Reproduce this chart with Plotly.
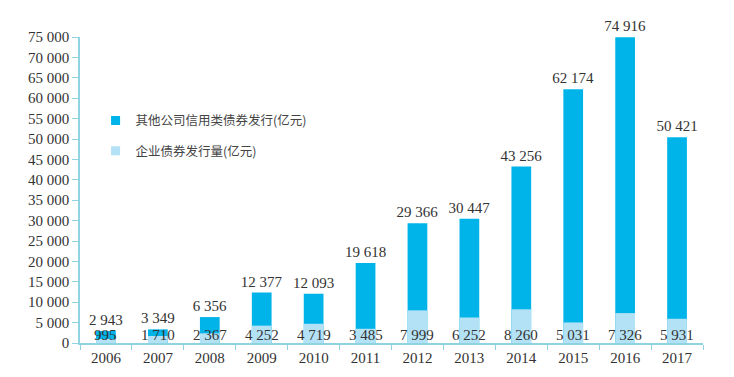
import plotly.graph_objects as go

years = ["2006", "2007", "2008", "2009", "2010", "2011", "2012", "2013", "2014", "2015", "2016", "2017"]
other_credit = [2943, 3349, 6356, 12377, 12093, 19618, 29366, 30447, 43256, 62174, 74916, 50421]
enterprise = [995, 1710, 2367, 4252, 4719, 3485, 7999, 6252, 8260, 5031, 7326, 5931]
y_ticks = list(range(0, 75001, 5000))

DARK = "#00b4ea"
LIGHT = "#b3e1f5"
AXIS = "#8fd3e3"
TXT = "#333333"
SERIF = "Liberation Serif, Times New Roman, serif"
CJK = "Noto Sans CJK SC"
FS = 15

def fmt(v):
    return f"{v:,}".replace(",", " ")

fig = go.Figure()
fig.add_trace(go.Bar(
    x=years, y=other_credit, name="其他公司信用类债券发行(亿元)",
    marker=dict(color=DARK, line=dict(width=0)), width=0.38,
    text=[fmt(v) for v in other_credit], textposition="outside",
    textfont=dict(family=SERIF, size=FS, color=TXT), cliponaxis=False,
    showlegend=False,
))
fig.add_trace(go.Bar(
    x=years, y=enterprise, name="企业债券发行量(亿元)",
    marker=dict(color=LIGHT, line=dict(width=0)), width=0.38,
    showlegend=False,
))
# legend entries
fig.add_trace(go.Scatter(x=[None], y=[None], mode="markers", name="其他公司信用类债券发行(亿元)",
                         marker=dict(symbol="square", size=9, color=DARK), legendgroup="a"))
fig.add_trace(go.Scatter(x=[None], y=[None], mode="markers", name="企业债券发行量(亿元)",
                         marker=dict(symbol="square", size=9, color=LIGHT), legendgroup="b"))

for i, v in enumerate(enterprise):
    fig.add_annotation(x=i, y=0, text=fmt(v), showarrow=False,
                       yanchor="middle", yshift=8,
                       font=dict(family=SERIF, size=FS, color=TXT))

fig.update_layout(
    barmode="overlay",
    width=734, height=377,
    margin=dict(l=72, r=39, t=29, b=42, autoexpand=False),
    plot_bgcolor="white", paper_bgcolor="white",
    showlegend=True,
    uniformtext=dict(minsize=FS, mode="show"),
    legend=dict(x=0.025, y=0.775, xanchor="left", yanchor="top",
                font=dict(family=CJK, size=12.5, color="#444444"),
                traceorder="grouped", tracegroupgap=11,
                bgcolor="rgba(0,0,0,0)"),
    xaxis=dict(
        type="category", range=[-0.5, len(years) - 0.5],
        tickson="boundaries", ticks="outside", ticklen=5,
        tickcolor=AXIS, showline=True, linecolor=AXIS, linewidth=1.5,
        tickfont=dict(family=SERIF, size=FS, color=TXT), showgrid=False,
    ),
    yaxis=dict(
        range=[0, 75000], tickvals=y_ticks,
        ticktext=[fmt(v) for v in y_ticks],
        ticks="outside", ticklen=6, tickcolor=AXIS,
        showline=True, linecolor=AXIS, linewidth=1.5,
        showgrid=False, zeroline=False,
        tickfont=dict(family=SERIF, size=FS, color=TXT),
    ),
)

fig.write_html("out.html")
